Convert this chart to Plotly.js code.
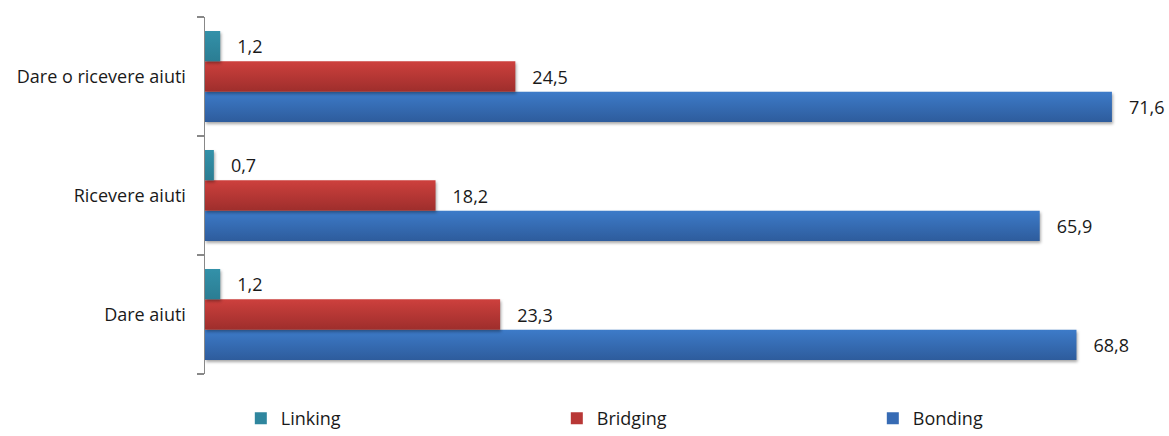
<!DOCTYPE html>
<html>
<head>
<meta charset="utf-8">
<script src="https://cdn.plot.ly/plotly-3.0.1.min.js"></script>
<style>html,body{margin:0;padding:0;background:#fff;}#chart{width:1169px;height:436px;}</style>
</head>
<body>
<div id="chart"></div>
<script>
// Categories bottom-to-top (Plotly draws the first category at the bottom)
const categories = ["Dare aiuti", "Ricevere aiuti", "Dare o ricevere aiuti"];
const linking  = [1.2, 0.7, 1.2];
const bridging = [23.3, 18.2, 24.5];
const bonding  = [68.8, 65.9, 71.6];

const FONT = "'Open Sans', 'Noto Sans', sans-serif";
const pad = "\u00a0\u00a0\u00a0";
function series(name, vals, color) {
  return {
    type: "bar", orientation: "h", name: name,
    y: categories, x: vals,
    marker: {color: color},
    texttemplate: pad + "%{x:.1f}",
    textposition: "outside",
    constraintext: "none",
    cliponaxis: false,
    textfont: {family: FONT, size: 18, color: "#1a1a1a"},
    hoverinfo: "x+name"
  };
}
const data = [
  series("Bonding", bonding, "#376bb4"),
  series("Bridging", bridging, "#b83736"),
  series("Linking", linking, "#2f869e")
];
const layout = {
  width: 1169, height: 436,
  margin: {l: 205, r: 14, t: 17, b: 62},
  barmode: "group",
  bargap: 0.235, bargroupgap: 0,
  separators: ",.",
  paper_bgcolor: "#fff", plot_bgcolor: "#fff",
  font: {family: FONT, size: 18, color: "#1a1a1a"},
  xaxis: {range: [0, 75], visible: false, fixedrange: true},
  yaxis: {
    type: "category", tickson: "boundaries",
    ticks: "outside", ticklen: 7, tickcolor: "#888", tickwidth: 1.5,
    showline: true, linecolor: "#888", linewidth: 1.5,
    showgrid: false, zeroline: false, ticklabelstandoff: 14,
    tickfont: {family: FONT, size: 18, color: "#1a1a1a"}
  },
  showlegend: true,
  legend: {
    orientation: "h", traceorder: "reversed",
    xref: "container", yref: "container",
    x: 0.206, xanchor: "left", y: 0.04, yanchor: "middle",
    entrywidth: 271, entrywidthmode: "pixels",
    itemwidth: 30,
    font: {family: FONT, size: 18, color: "#1a1a1a"}
  }
};
// vertical gradients (top -> bottom) applied as a style on the drawn bars
const gradients = {
  Bonding:  ["#3d7bc9", "#2e5c9c"],
  Bridging: ["#cd403d", "#9e2e2c"],
  Linking:  ["#3391a9", "#2b7d93"]
};
Plotly.newPlot("chart", data, layout, {displayModeBar: false, staticPlot: true}).then(function (gd) {
  const svg = gd.querySelector("svg.main-svg");
  const ns = "http://www.w3.org/2000/svg";
  let defs = svg.querySelector("defs");
  if (!defs) { defs = document.createElementNS(ns, "defs"); svg.insertBefore(defs, svg.firstChild); }
  Object.keys(gradients).forEach(function (k) {
    const g = document.createElementNS(ns, "linearGradient");
    g.setAttribute("id", "grad-" + k);
    g.setAttribute("x1", "0"); g.setAttribute("y1", "0");
    g.setAttribute("x2", "0"); g.setAttribute("y2", "1");
    [[0, gradients[k][0]], [1, gradients[k][1]]].forEach(function (s) {
      const st = document.createElementNS(ns, "stop");
      st.setAttribute("offset", s[0]); st.setAttribute("stop-color", s[1]);
      g.appendChild(st);
    });
    defs.appendChild(g);
  });
  gd.querySelectorAll(".barlayer .trace.bars").forEach(function (tr, i) {
    const name = gd.data[i].name;
    tr.querySelectorAll("path").forEach(function (p) {
      p.style.fill = "url(#grad-" + name + ")";
      p.style.filter = "drop-shadow(1px 2px 1.5px rgba(0,0,0,0.35))";
    });
  });
});
</script>
</body>
</html>
